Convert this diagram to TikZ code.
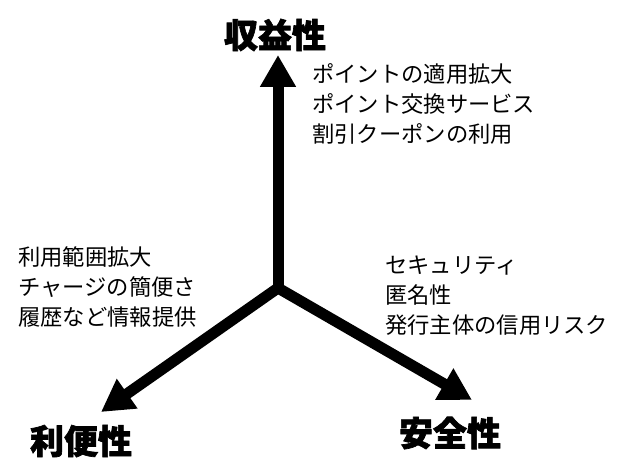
\documentclass[tikz,border=0pt]{standalone}
\usepackage{fontspec}
\newfontfamily\cjk{Noto Sans CJK JP}
\newfontfamily\cjkb[FakeBold=2]{Noto Sans CJK JP}
\usetikzlibrary{arrows.meta}
\begin{document}
\begin{tikzpicture}[x=1pt,y=-1pt,
  axis/.style={line width=11pt,-{Triangle[width=34pt,length=32pt]}},
  title/.style={font=\cjkb\bfseries\fontsize{34}{36}\selectfont, inner sep=0pt},
  items/.style={font=\cjk\fontsize{22.3}{30}\selectfont, align=left, anchor=north west, inner sep=0pt}]
\useasboundingbox (0,0) rectangle (631,462);
\coordinate (o) at (278,288);
\coordinate (t) at (278,55);
\coordinate (l) at (101,412);
\coordinate (r) at (472,400);
\draw[axis] (o) -- (t);
\draw[axis] (o) -- (l);
\draw[axis] (o) -- (r);
\node[title] (a) at (275,35) {収益性};
\node[title] (b) at (81,441) {利便性};
\node[title] (c) at (450,433) {安全性};
\node[items] (ta) at (312,63) {ポイントの適用拡大\\ポイント交換サービス\\割引クーポンの利用};
\node[items] (tb) at (18,246) {利用範囲拡大\\チャージの簡便さ\\履歴など情報提供};
\node[items] (tc) at (385,256) {セキュリティ\\匿名性\\発行主体の信用リスク};
\end{tikzpicture}
\end{document}
